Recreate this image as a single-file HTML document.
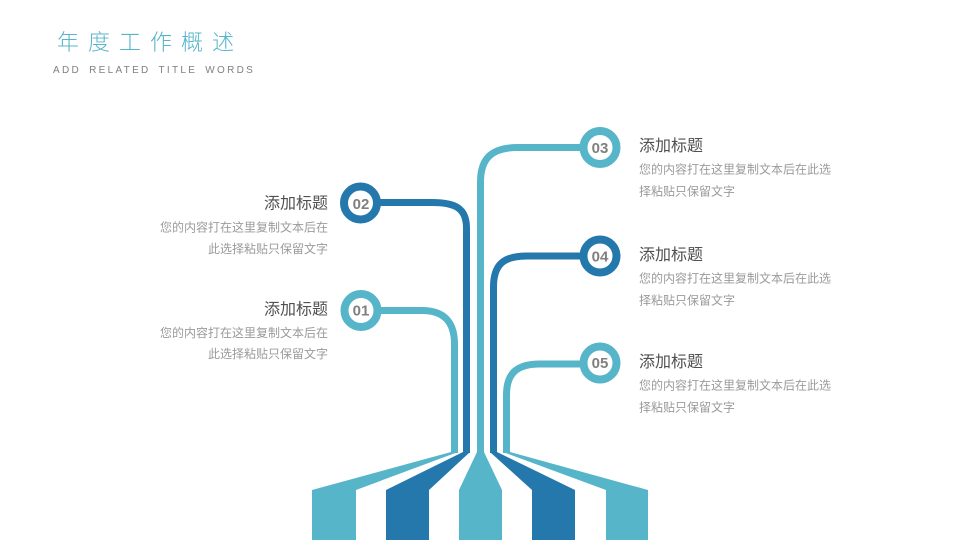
<!DOCTYPE html>
<html><head><meta charset="utf-8"><style>
html,body{margin:0;padding:0;background:#fff;width:960px;height:540px;overflow:hidden}
svg{display:block}
text{font-family:"Liberation Sans","Noto Sans CJK SC",sans-serif}
.h{font-size:16px;fill:#505050}
.b{font-size:12px;fill:#9a9a9a}
.n{font-size:15px;font-weight:bold;fill:#7f7f7f;text-anchor:middle}
.e{text-anchor:end}
</style></head><body>
<svg width="960" height="540" viewBox="0 0 960 540" xmlns="http://www.w3.org/2000/svg">
<g fill="none" stroke-width="7">
<path d="M361 310.5H422C444 310.500 454.5 322 454.5 344V453" stroke="#57b5c9"/>
<path d="M361 202.5H432C455 202.500 466.5 208 466.5 228V453" stroke="#2478ab"/>
<path d="M600 147.5H518C492 147.500 480.5 158 480.5 182V453" stroke="#57b5c9"/>
<path d="M600 256H527C504 256 493.5 264 493.5 287V453" stroke="#2478ab"/>
<path d="M600 364H540C517 364 506.5 373 506.5 395V453" stroke="#57b5c9"/>
</g>
<g fill="#57b5c9">
<polygon points="312,490 451,452 458,452 356,490 356,540 312,540"/>
<polygon points="459,490 477,452 484,452 502,490 502,540 459,540"/>
<polygon points="648,490 510,452 503,452 606,490 606,540 648,540"/>
</g>
<g fill="#2478ab">
<polygon points="386,490 463,452 470,452 429,490 429,540 386,540"/>
<polygon points="575,490 497,452 490,452 532,490 532,540 575,540"/>
</g>
<g fill="#fff" stroke-width="8">
<circle cx="361" cy="310.5" r="16.5" stroke="#57b5c9"/>
<circle cx="360.5" cy="203" r="16.5" stroke="#2478ab"/>
<circle cx="600" cy="147.5" r="16.5" stroke="#57b5c9"/>
<circle cx="600" cy="256" r="16.5" stroke="#2478ab"/>
<circle cx="600" cy="363" r="16.5" stroke="#57b5c9"/>
</g>
<text class="n" x="361" y="315.5">01</text>
<text class="n" x="361" y="209">02</text>
<text class="n" x="600" y="153">03</text>
<text class="n" x="600" y="261.500">04</text>
<text class="n" x="600" y="368">05</text>

<text x="57" y="50" style="font-size:22px;fill:#57b5c9;letter-spacing:9px;font-weight:300">年度工作概述</text>
<text x="53" y="73" style="font-size:10px;fill:#808080;letter-spacing:2.3px;word-spacing:3px">ADD RELATED TITLE WORDS</text>

<text class="h e" x="328" y="208.500">添加标题</text>
<text class="b e" x="328" y="231.500">您的内容打在这里复制文本后在</text>
<text class="b e" x="328" y="253">此选择粘贴只保留文字</text>
<text class="h e" x="328" y="314.500">添加标题</text>
<text class="b e" x="328" y="337">您的内容打在这里复制文本后在</text>
<text class="b e" x="328" y="358">此选择粘贴只保留文字</text>

<text class="h" x="639" y="151">添加标题</text>
<text class="b" x="639" y="173.500">您的内容打在这里复制文本后在此选</text>
<text class="b" x="639" y="195.500">择粘贴只保留文字</text>
<text class="h" x="639" y="260">添加标题</text>
<text class="b" x="639" y="282.500">您的内容打在这里复制文本后在此选</text>
<text class="b" x="639" y="304.500">择粘贴只保留文字</text>
<text class="h" x="639" y="367">添加标题</text>
<text class="b" x="639" y="389.500">您的内容打在这里复制文本后在此选</text>
<text class="b" x="639" y="411.500">择粘贴只保留文字</text>
</svg>
</body></html>
